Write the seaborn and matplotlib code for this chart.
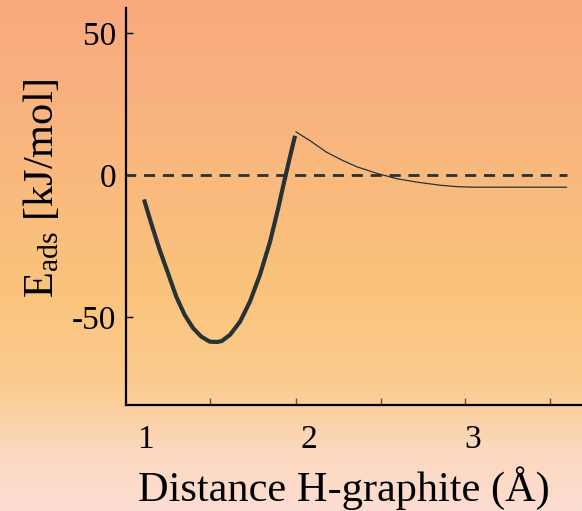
import numpy as np
import pandas as pd
import matplotlib
matplotlib.use("Agg")
import matplotlib.pyplot as plt
from matplotlib.colors import LinearSegmentedColormap
import seaborn as sns

# ---- data ----
chem_x = [0.993, 1.037, 1.089, 1.140, 1.190, 1.242, 1.293, 1.343, 1.395, 1.441, 1.468,
          1.519, 1.580, 1.641, 1.702, 1.764, 1.814, 1.855, 1.886, 1.917]
chem_y = [-8.6, -17.0, -26.4, -34.6, -42.8, -49.3, -53.9, -56.9, -58.7, -58.8, -58.5,
          -56.3, -51.7, -44.6, -35.2, -23.5, -11.7, -1.2, 6.4, 13.8]
phys_x = [1.922, 2.008, 2.110, 2.212, 2.294, 2.416, 2.538, 2.661, 2.803, 2.905, 3.007, 3.578]
phys_y = [15.2, 12.1, 8.0, 5.0, 2.9, 0.6, -1.3, -2.5, -3.6, -4.1, -4.3, -4.3]
zero_x = [0.883, 3.578]
zero_y = [0, 0]
xtick_vals = [1, 2, 3]
xtick_labels = ["1", "2", "3"]
xminor_ticks = [1.397, 1.923, 2.442, 2.956, 3.476]
ytick_vals = [-50, 0, 50]
ytick_labels = ["-50", "0", "50"]

sns.set_theme(style="white")
plt.rcParams["font.family"] = ["Liberation Serif", "DejaVu Serif"]
plt.rcParams["mathtext.fontset"] = "custom"
plt.rcParams["mathtext.rm"] = "Liberation Serif"
plt.rcParams["mathtext.it"] = "Liberation Serif:italic"

W, H = 582, 511
fig = plt.figure(figsize=(W / 100, H / 100), dpi=100)

# gradient background
bg = fig.add_axes([0, 0, 1, 1], zorder=-10)
cmap = LinearSegmentedColormap.from_list(
    "bg",
    [(0.0, "#F8A97F"), (0.30, "#F9B77E"), (0.58, "#FAC47C"), (0.75, "#FBCB8E"),
     (0.88, "#FCD8BD"), (1.0, "#FCDDD3")])
grad = np.linspace(0, 1, 256).reshape(-1, 1)
bg.imshow(grad, aspect="auto", cmap=cmap, extent=[0, 1, 0, 1], origin="upper")
bg.set_axis_off()

ax = fig.add_axes([126 / W, 1 - 405 / H, 1 - 126 / W, (405 - 8) / H])
ax.set_facecolor("none")

line_col = "#283236"
chem = pd.DataFrame({"x": chem_x, "y": chem_y})
phys = pd.DataFrame({"x": phys_x, "y": phys_y})
zero = pd.DataFrame({"x": zero_x, "y": zero_y})

sns.lineplot(data=zero, x="x", y="y", ax=ax, color=line_col, linewidth=2.0,
             dashes=False, linestyle=(0.5, (4.0, 2.8)), sort=False)
sns.lineplot(data=chem, x="x", y="y", ax=ax, color=line_col, linewidth=3.0,
             sort=False, solid_capstyle="butt", solid_joinstyle="round")
sns.lineplot(data=phys, x="x", y="y", ax=ax, color=line_col, linewidth=0.9,
             sort=False)

ax.set_xlim(0.883, 3.672)
ax.set_ylim(-81.0, 58.8)

for s in ["top", "right"]:
    ax.spines[s].set_visible(False)
for s in ["left", "bottom"]:
    ax.spines[s].set_color("black")
    ax.spines[s].set_linewidth(1.6)

ax.set_xticks(xtick_vals)
ax.set_xticklabels(xtick_labels)
ax.set_xticks(xminor_ticks, minor=True)
ax.set_yticks(ytick_vals)
ax.set_yticklabels(ytick_labels)

ax.tick_params(axis="x", which="major", length=0, pad=14, labelsize=24, colors="black")
ax.tick_params(axis="x", which="minor", direction="in", length=5, width=1.0, color="#555555")
ax.tick_params(axis="y", which="major", direction="in", length=5, width=1.0, pad=7,
               labelsize=24, colors="black")
ax.tick_params(left=True, bottom=True, which="both")
ax.tick_params(axis="x", which="major", bottom=False)

ax.set_xlabel("Distance H-graphite (Å)", fontsize=30.5, color="black", va="center")
ax.xaxis.set_label_coords(0.478, -0.209)
ax.set_ylabel(r"E$_{\mathrm{ads}}$ [kJ/mol]", fontsize=30.5, color="black", va="center")
ax.yaxis.set_label_coords(-0.184, 0.547)

fig.savefig("out.png", dpi=100)
